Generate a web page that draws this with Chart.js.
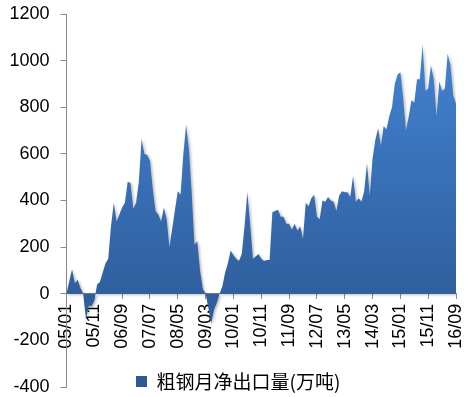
<!DOCTYPE html>
<html><head><meta charset="utf-8">
<script src="https://cdn.jsdelivr.net/npm/chart.js@4/dist/chart.umd.min.js"></script>
<style>html,body{margin:0;padding:0;background:#fff;}#wrap{width:475px;height:397px;position:relative;}</style>
</head><body><div id="wrap"><canvas id="c" width="475" height="397"></canvas></div>
<script>
const seriesName = '粗钢月净出口量(万吨)';
const startYear = 2005, startMonth = 1, monthCount = 141;
const months = [];
for (let k = 0; k < monthCount; k++) {
  const y = startYear + Math.floor((startMonth - 1 + k) / 12);
  const m = (startMonth - 1 + k) % 12 + 1;
  months.push(String(y % 100).padStart(2, '0') + '/' + String(m).padStart(2, '0'));
}
const tickLabels = ['05/01','05/11','06/09','07/07','08/05','09/03','10/01','10/11','11/09','12/07','13/05','14/03','15/01','15/11','16/09'];
const netExports = [
  0, 55, 105, 45, 60, 25, 0, -110, -50, -55,
  -30, 40, 50, 90, 130, 150, 290, 390, 310, 340,
  370, 390, 480, 475, 365, 390, 480, 665, 600, 595,
  570, 450, 355, 340, 310, 370, 320, 200, 280, 360,
  440, 425, 600, 725, 620, 430, 210, 225, 100, 20,
  0, -60, -130, -70, -40, 0, 30, 90, 130, 185,
  165, 150, 140, 170, 290, 435, 300, 150, 160, 170,
  150, 140, 145, 145, 350, 355, 360, 330, 330, 300,
  300, 275, 300, 270, 290, 235, 390, 375, 410, 425,
  330, 320, 400, 395, 415, 400, 395, 355, 420, 440,
  435, 435, 415, 505, 395, 410, 395, 440, 560, 420,
  580, 660, 710, 635, 720, 705, 760, 800, 900, 940,
  950, 840, 700, 760, 830, 820, 920, 920, 1070, 870,
  880, 980, 920, 760, 910, 870, 880, 1030, 980, 850,
  815
];
const yMin = -400, yMax = 1200, yStep = 200;

const legendPlace = {
  id: 'legendPlace',
  afterLayout(chart) {
    const L = chart.legend;
    if (!L) return;
    L.left = 136; L.top = 372; L.right = 472; L.bottom = 395;
    L.width = L.right - L.left; L.height = L.bottom - L.top;
  }
};
const areaShadow = {
  id: 'areaShadow',
  beforeDatasetsDraw(chart) {
    const c = chart.ctx; c.save();
    c.shadowColor = 'rgba(0,0,0,0.28)'; c.shadowBlur = 3; c.shadowOffsetX = 1.5; c.shadowOffsetY = 1;
  },
  afterDatasetsDraw(chart) { chart.ctx.restore(); }
};

function areaFill(ctx) {
  const chart = ctx.chart;
  if (!chart.chartArea || !chart.scales.y) return '#3a6db3';
  const ys = chart.scales.y;
  const g = chart.ctx.createLinearGradient(0, ys.getPixelForValue(1100), 0, ys.getPixelForValue(-150));
  g.addColorStop(0, '#4383d3');
  g.addColorStop(1, '#2d5a97');
  return g;
}

new Chart(document.getElementById('c'), {
  type: 'line',
  data: {
    labels: months,
    datasets: [{
      label: seriesName,
      data: netExports,
      fill: 'origin',
      backgroundColor: areaFill,
      borderWidth: 0,
      pointRadius: 0,
      tension: 0
    }]
  },
  options: {
    responsive: false,
    devicePixelRatio: 1,
    animation: false,
    layout: { padding: { top: 14, right: 19, bottom: 10, left: 0 } },
    plugins: {
      tooltip: { enabled: false },
      legend: {
        position: 'chartArea',
        align: 'start',
        labels: {
          boxWidth: 11, boxHeight: 11, padding: 0, color: '#000',
          font: { family: '"Noto Sans CJK SC"', size: 19 }
        }
      }
    },
    scales: {
      x: {
        type: 'category',
        position: { y: 0 },
        z: 1,
        offset: false,
        grid: {
          drawOnChartArea: false, drawTicks: true, tickLength: 5,
          color: (c) => (tickLabels.includes(months[c.index]) ? '#8a8a8a' : 'rgba(0,0,0,0)')
        },
        border: { color: '#8a8a8a', width: 1 },
        ticks: {
          autoSkip: false, minRotation: 90, maxRotation: 90, padding: 5, color: '#000',
          font: { family: '"Liberation Sans"', size: 18 },
          callback: (v, i) => (tickLabels.includes(months[i]) ? months[i] : '')
        },
        afterFit: (s) => { s.paddingLeft = 0; s.paddingRight = 0; s.paddingTop = 0; s.paddingBottom = 0; }
      },
      y: {
        min: yMin, max: yMax,
        grid: { drawOnChartArea: false, drawTicks: true, tickLength: 6, color: '#8a8a8a' },
        border: { color: '#8a8a8a', width: 1 },
        ticks: {
          stepSize: yStep, padding: 11, color: '#000',
          font: { family: '"Liberation Sans"', size: 18, lineHeight: 1 },
          callback: (v) => String(v)
        },
        afterFit: (s) => { s.width = 66.5; s.paddingTop = 0; s.paddingBottom = 0; }
      }
    }
  },
  plugins: [legendPlace, areaShadow]
});
</script></body></html>
